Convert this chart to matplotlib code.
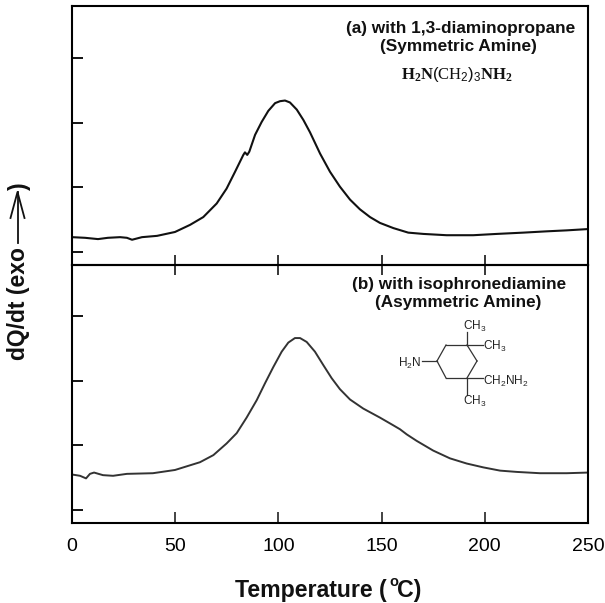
import matplotlib as mpl
mpl.use("Agg")
import matplotlib.pyplot as plt
from matplotlib.lines import Line2D

mpl.rcParams['font.family'] = 'Liberation Sans'
mpl.rcParams['mathtext.fontset'] = 'custom'
mpl.rcParams['mathtext.rm'] = 'Liberation Sans'
mpl.rcParams['mathtext.bf'] = 'Liberation Serif:bold'
mpl.rcParams['mathtext.it'] = 'Liberation Serif'

temp_a = [0, 6.3, 12.6, 17.4, 23.3, 26.6, 29.1, 33.9, 41.2, 49.9, 57.2, 63.6, 70.1, 74.9, 79, 83, 83.8, 84.9, 85.9,
          88.7, 91.9, 95.1, 98.4, 100.8, 103.2, 105.6, 108.9, 112.1, 115.3, 120.2, 125, 129.8, 134.7, 139.5, 144.4,
          149.2, 155.7, 162.9, 170.2, 181.5, 194.4, 205.8, 218.7, 230, 239.7, 250]
signal_a = [.23, .22, .20, .22, .23, .22, .19, .23, .25, .31, .42, .54, .75, .98, 1.24, 1.50, 1.54, 1.50, 1.55,
            1.81, 2.01, 2.18, 2.30, 2.33, 2.34, 2.31, 2.20, 2.04, 1.85, 1.52, 1.24, 1.01, .81, .66, .54,
            .45, .37, .30, .28, .26, .26, .28, .30, .32, .335, .355]

temp_b = [0, 3.9, 6.8, 8.7, 10.7, 15, 19.9, 26.6, 39.2, 49.9, 62, 68.5, 74.9, 79.8, 84.6, 89.5, 93.5, 97.5, 101.6,
          104.8, 108, 110.5, 113.7, 117.7, 121.8, 125.8, 129.8, 134.7, 141.1, 149.2, 155.7, 158.9, 162.2, 167, 175,
          183.1, 191.2, 199.3, 207.4, 215.5, 226.7, 239.7, 250]
signal_b = [.55, .53, .49, .56, .58, .54, .53, .56, .57, .62, .74, .85, 1.03, 1.19, 1.43, 1.70, 1.96, 2.21, 2.45,
            2.59, 2.66, 2.66, 2.60, 2.45, 2.24, 2.04, 1.87, 1.71, 1.57, 1.43, 1.31, 1.25, 1.17, 1.07, .92,
            .80, .72, .66, .61, .59, .57, .57, .58]

x_ticks = [0, 50, 100, 150, 200, 250]
y_ticks = [0, 1, 2, 3]

W, H = 605, 603
fig = plt.figure(figsize=(W / 100, H / 100), dpi=100)


def px_axes(left, top, right, bottom):  # pixel box to figure fractions
    return fig.add_axes([left / W, 1 - bottom / H, (right - left) / W, (bottom - top) / H])


ax_a = px_axes(72, 6, 588, 265)
ax_b = px_axes(72, 265, 588, 523)

for ax in (ax_a, ax_b):
    ax.set_xlim(0, 250)
    ax.set_yticks(y_ticks)
    ax.set_xticks(x_ticks)
    ax.tick_params(axis='y', direction='in', length=8, width=1.3, labelleft=False)
    for s in ax.spines.values():
        s.set_linewidth(1.5)

ax_a.set_ylim(-0.2, 3.8)
ax_b.set_ylim(-0.2, 3.79)

# ticks on the shared line cross it, both panels
ax_a.set_xticks([50, 100, 150, 200])
ax_a.tick_params(axis='x', direction='inout', length=14, width=1.1, labelbottom=False)
ax_a.set_zorder(3)
ax_a.patch.set_alpha(0)
ax_b.tick_params(axis='x', direction='in', length=8, width=1.1, top=False, labelsize=14, pad=11, color='#111111')

ax_a.plot(temp_a, signal_a, color='#111111', lw=1.5, solid_joinstyle='round')
ax_b.plot(temp_b, signal_b, color='#333333', lw=1.4, solid_joinstyle='round')

# top panel labels
fig.text(461 / W, 1 - 29 / H, '(a) with 1,3-diaminopropane', ha='center', va='center', fontsize=12.4, fontweight='bold', color='#111111')
fig.text(458 / W, 1 - 47 / H, '(Symmetric Amine)', ha='center', va='center', fontsize=12.4, fontweight='bold', color='#111111')
fig.text(457 / W, 1 - 75 / H, r'$\mathbf{H_2N}\mathit{(CH_2)_3}\mathbf{NH_2}$', ha='center', va='center', fontsize=12, color='#111111')

fig.text(459 / W, 1 - 284 / H, '(b) with isophronediamine', ha='center', va='center', fontsize=12.3, fontweight='bold', color='#111111')
fig.text(458 / W, 1 - 303 / H, '(Asymmetric Amine)', ha='center', va='center', fontsize=12.3, fontweight='bold', color='#111111')

# isophoronediamine structure, drawn in pixel positions
bonds = [((437, 361), (446, 345)), ((446, 345), (467, 345)), ((467, 345), (477, 361)), ((477, 361), (467, 378)),
         ((467, 378), (446, 378)), ((446, 378), (437, 361)), ((422, 361), (437, 361)), ((467, 345), (467, 332)),
         ((467, 345), (483, 345)), ((467, 378), (483, 378)), ((467, 378), (467, 395))]
for p, q in bonds:
    fig.add_artist(Line2D([p[0] / W, q[0] / W], [1 - p[1] / H, 1 - q[1] / H], color='#333333', lw=0.9))

for tx, ty, s, ha in [(463, 326, r'$\mathrm{CH_3}$', 'left'), (483, 346, r'$\mathrm{CH_3}$', 'left'),
                      (421, 363, r'$\mathrm{H_2N}$', 'right'), (483, 381, r'$\mathrm{CH_2NH_2}$', 'left'),
                      (463, 401, r'$\mathrm{CH_3}$', 'left')]:
    fig.text(tx / W, 1 - ty / H, s, ha=ha, va='center', fontsize=8.5, color='#222222')

# axis titles
fig.text(235 / W, 1 - 597 / H, 'Temperature (', ha='left', va='baseline', fontsize=16.7, fontweight='bold', color='#111111')
fig.text(389.5 / W, 1 - 586 / H, 'o', ha='left', va='baseline', fontsize=10.5, fontweight='bold', color='#111111')
fig.text(397 / W, 1 - 597 / H, 'C)', ha='left', va='baseline', fontsize=16.7, fontweight='bold', color='#111111')
fig.text(19 / W, 1 - 304 / H, 'dQ/dt (exo', rotation=90, ha='center', va='center', fontsize=16.5, fontweight='bold', color='#111111')
fig.text(19 / W, 1 - 186 / H, ')', rotation=90, ha='center', va='center', fontsize=16.5, fontweight='bold', color='#111111')
fig.add_artist(Line2D([17.5 / W, 17.5 / W], [1 - 243 / H, 1 - 192 / H], color='#111111', lw=1.3))
fig.add_artist(Line2D([10.5 / W, 17.5 / W, 24.5 / W], [1 - 218 / H, 1 - 192 / H, 1 - 218 / H], color='#111111', lw=1.3))

fig.savefig("out.png", dpi=100)
